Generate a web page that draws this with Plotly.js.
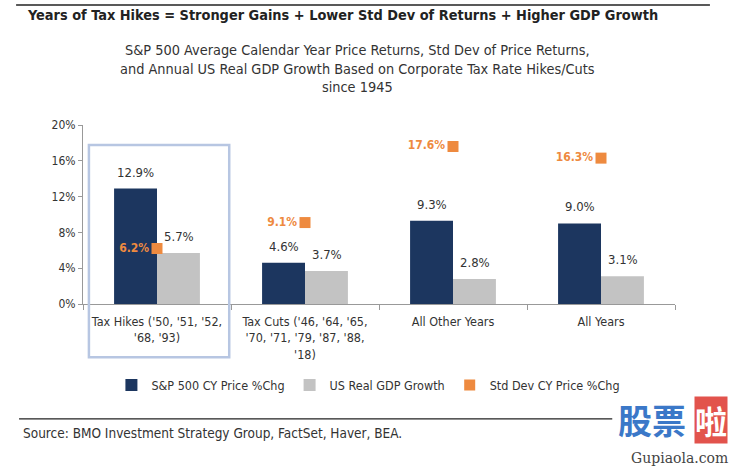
<!DOCTYPE html>
<html><head><meta charset="utf-8">
<script src="https://cdn.plot.ly/plotly-3.0.1.min.js"></script>
<style>html,body{margin:0;padding:0;background:#fff}#c{width:733px;height:473px}</style>
</head><body><div id="c"></div>
<script>
const categories = ["Tax Hikes ('50, '51, '52,<br>'68, '93)", "Tax Cuts ('46, '64, '65,<br>'70, '71, '79, '87, '88,<br>'18)", "All Other Years", "All Years"];
const spReturns = [12.9, 4.6, 9.3, 9.0];
const gdpGrowth = [5.7, 3.7, 2.8, 3.1];
const stdDev = [6.2, 9.1, 17.6, 16.3];
const yTicks = [0, 4, 8, 12, 16, 20];
const seriesNames = ["S&P 500 CY Price %Chg", "US Real GDP Growth", "Std Dev CY Price %Chg"];

const FONT = "'DejaVu Sans Condensed', 'Liberation Sans Narrow', 'Arial Narrow', sans-serif";
const NAVY = '#1c365f', GRAY = '#c3c3c3', ORANGE = '#ee8a3f', TXT = '#333333';

const traces = [
  {type:'bar', name:seriesNames[0], x:categories, y:spReturns, marker:{color:NAVY}, hoverinfo:'skip'},
  {type:'bar', name:seriesNames[1], x:categories, y:gdpGrowth, marker:{color:GRAY}, hoverinfo:'skip'},
  {type:'scatter', mode:'markers+text', name:seriesNames[2], x:categories, y:stdDev,
   marker:{symbol:'square', size:11, color:ORANGE},
   text: stdDev.map(v => '<b>' + v.toFixed(1) + '%</b>'), textposition:'middle left',
   textfont:{color:ORANGE, size:12, family:FONT}, hoverinfo:'skip', cliponaxis:false}
];

const annotations = [];
categories.forEach((c, i) => {
  annotations.push({x:c, y:spReturns[i], xref:'x', yref:'y', text:spReturns[i].toFixed(1)+'%', showarrow:false,
    xshift:-21.5, yanchor:'bottom', yshift:7, font:{size:13, color:TXT, family:FONT}});
  annotations.push({x:c, y:gdpGrowth[i], xref:'x', yref:'y', text:gdpGrowth[i].toFixed(1)+'%', showarrow:false,
    xshift:21.5, yanchor:'bottom', yshift:7, font:{size:13, color:TXT, family:FONT}});
});
annotations.push({xref:'paper', yref:'paper', x:-0.098, y:1.612, xanchor:'left', yanchor:'middle', showarrow:false,
  text:'<b>Years of Tax Hikes = Stronger Gains + Lower Std Dev of Returns + Higher GDP Growth</b>',
  font:{size:14.4, color:'#222', family:FONT}});
annotations.push({xref:'paper', yref:'paper', x:0.4645, y:1.318, xanchor:'center', yanchor:'middle', showarrow:false,
  text:'S&P 500 Average Calendar Year Price Returns, Std Dev of Price Returns,<br>and Annual US Real GDP Growth Based on Corporate Tax Rate Hikes/Cuts<br>since 1945',
  font:{size:14.4, color:TXT, family:FONT}});
annotations.push({xref:'paper', yref:'paper', x:-0.105, y:-0.723, xanchor:'left', yanchor:'middle', showarrow:false,
  text:'Source: BMO Investment Strategy Group, FactSet, Haver, BEA.', font:{size:13.5, color:TXT, family:FONT}});
// watermark
annotations.push({xref:'paper', yref:'paper', x:1.022, y:-0.648, xanchor:'right', yanchor:'middle', showarrow:false,
  text:'<b>股票</b>', font:{size:34, color:'#3b78c8', family:'Noto Sans CJK SC'}});
annotations.push({xref:'paper', yref:'paper', x:1.0895, y:-0.648, xanchor:'right', yanchor:'middle', showarrow:false,
  text:'<b>啦</b>', bgcolor:'#e2534c', borderpad:0, font:{size:32, color:'#ffffff', family:'Noto Sans CJK SC'}});
annotations.push({xref:'paper', yref:'paper', x:1.093, y:-0.86, xanchor:'right', yanchor:'middle', showarrow:false,
  text:'Gupiaola.com', font:{size:14, color:'#444', family:'DejaVu Serif'}});

const shapes = [
  {type:'line', xref:'paper', yref:'paper', x0:-0.113, x1:1.059, y0:1.67, y1:1.67, line:{color:'#222', width:1.5}},
  {type:'line', xref:'paper', yref:'paper', x0:-0.108, x1:0.894, y0:-0.642, y1:-0.642, line:{color:'#222', width:1.2}},
  {type:'rect', xref:'paper', yref:'paper', x0:0.010, x1:0.247, y0:0.888, y1:-0.297, line:{color:'#b7c6e2', width:2.5}, fillcolor:'rgba(0,0,0,0)'}
];

const layout = {
  width:733, height:473,
  margin:{l:83, r:58, t:125, b:169},
  paper_bgcolor:'#fff', plot_bgcolor:'#fff',
  barmode:'group', bargap:0.42, bargroupgap:0,
  showlegend:true,
  legend:{orientation:'h', x:0.048, y:-0.455, xanchor:'left', yanchor:'middle', font:{size:12.5, color:TXT, family:FONT}, traceorder:'normal', itemwidth:30},
  font:{family:FONT, color:TXT},
  xaxis:{type:'category', showline:true, linecolor:'#999', linewidth:1, ticks:'outside', tickson:'boundaries', ticklen:5, tickcolor:'#999',
    ticklabelstandoff:6, tickfont:{size:12.5, color:TXT, family:FONT}, showgrid:false, zeroline:false},
  yaxis:{range:[0,20], tickvals:yTicks, ticktext:yTicks.map(v=>v+'%'), showline:true, linecolor:'#999', linewidth:1, ticks:'outside', ticklen:4, tickcolor:'#999',
    tickfont:{size:12, color:TXT, family:FONT}, showgrid:false, zeroline:false},
  annotations, shapes
};
Plotly.newPlot('c', traces, layout, {staticPlot:true, displayModeBar:false});
</script></body></html>
